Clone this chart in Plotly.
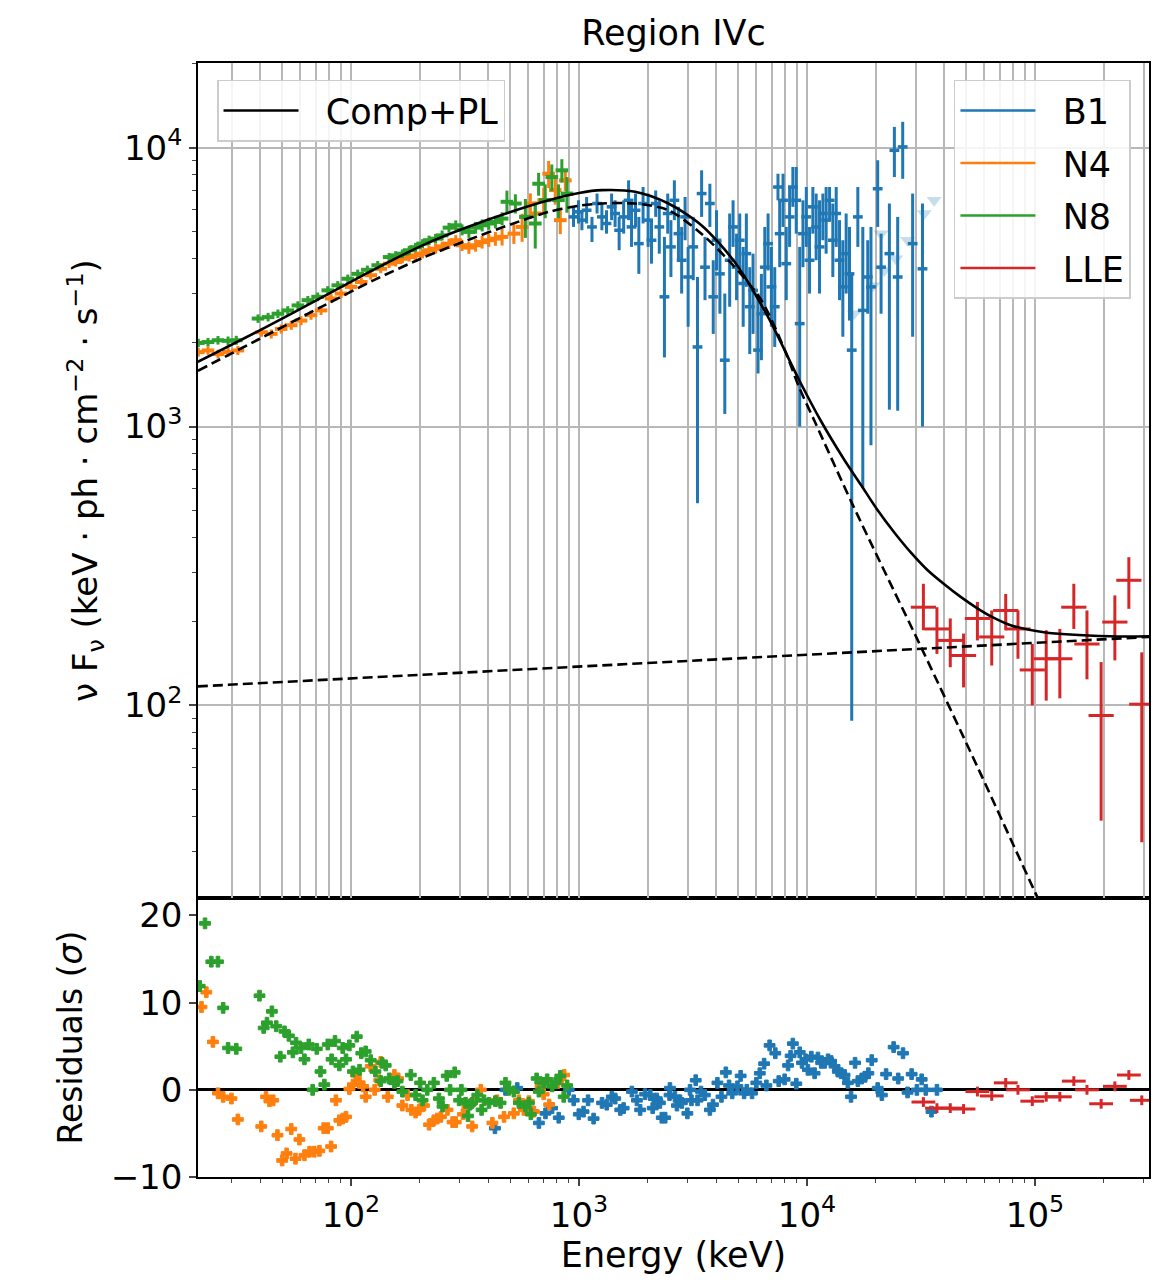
import plotly.graph_objects as go

# ---------------- data ----------------
# Model curves (keV, keV ph cm^-2 s^-1)
model_e = [21.3, 39.8, 75.2, 126, 206, 316, 501, 736, 1000, 1259, 1762, 2466, 3443, 4819,
           6745, 9247, 11510, 14590, 17260, 20420, 24150, 28580, 33730, 40000, 47210, 55850,
           66070, 78160, 109400, 213800, 316200]
model_total = [1706, 2213, 2917, 3656, 4467, 5152, 5888, 6486, 6887, 7047, 6950, 6310, 5272, 3890,
               2472, 1466, 1047, 759, 617, 501, 417, 353, 306, 272, 245, 223, 206, 194, 183, 177, 177]
comp_e = [21.3, 39.8, 75.2, 126, 206, 316, 501, 736, 1000, 1259, 1762, 2466, 3443, 4819,
          6310, 7943, 9247, 10790, 15850, 31620, 56230, 100000, 125900]
comp_f = [1585, 2065, 2704, 3350, 4027, 4624, 5309, 5888, 6194, 6310, 6310, 5970, 4920, 3733,
          2838, 1905, 1380, 1047, 525, 162, 59.6, 21.4, 14.3]
pl_e = [21.3, 316200]
pl_f = [117, 176]

# NaI detector n8 (green)
n8_e = [21.4, 23.6, 26.1, 28.9, 31.4, 39.1, 43.3, 47.8, 52.8, 58.5, 64.7, 71.4, 79.1, 87.5, 96.8,
        107, 118, 131, 147, 157, 168, 180, 192, 206, 220, 235, 251, 269, 288, 307, 329, 352, 376,
        402, 430, 460, 483, 526, 582, 643, 665, 711, 760, 813, 841, 885]
n8_f = [1995, 2010, 2040, 2030, 2040, 2440, 2470, 2540, 2610, 2720, 2840, 2920, 3080, 3210, 3390,
        3530, 3650, 3790, 4055, 4110, 4170, 4290, 4400, 4530, 4660, 4720, 4850, 5170, 5270, 5080,
        4990, 5170, 5270, 5350, 5420, 5570, 6400, 6310, 5650, 5350, 7430, 6490, 7850, 6490, 8300, 6850]
n8_err = [70, 70, 72, 74, 76, 85, 88, 90, 92, 95, 100, 105, 110, 115, 120, 125, 130, 135, 140, 145,
          150, 155, 160, 170, 180, 190, 200, 210, 220, 230, 240, 250, 260, 270, 280, 300, 620, 500,
          900, 1000, 700, 900, 860, 900, 800, 1000]

# NaI detector n4 (orange)
n4_e = [21.4, 23.6, 26.1, 28.9, 31.9, 40.5, 44.7, 49.4, 54.7, 60.4, 66.8, 73.9, 81.8, 90.4, 100,
        111, 122, 135, 147, 157, 168, 180, 192, 206, 220, 235, 251, 269, 288, 307, 329, 352, 376,
        402, 430, 460, 518, 563, 612, 643, 700, 736, 787, 828, 871]
n4_f = [1850, 1875, 1820, 1850, 1875, 2180, 2150, 2240, 2310, 2400, 2510, 2610, 2880, 3000, 3170,
        3300, 3490, 3680, 3840, 3890, 4000, 4055, 4110, 4170, 4290, 4345, 4430, 4530, 4660, 4470,
        4385, 4470, 4590, 4660, 4720, 4790, 4920, 5200, 6310, 5810, 6490, 8070, 7050, 5500, 7640]
n4_err = [65, 66, 66, 68, 70, 80, 80, 84, 86, 90, 94, 98, 105, 110, 115, 120, 125, 130, 135, 140,
          145, 150, 155, 160, 170, 175, 180, 190, 200, 210, 220, 230, 240, 250, 270, 330, 400, 600,
          550, 600, 700, 900, 800, 600, 650]

# BGO detector b1 (blue): centre, upper and lower end of the error bar
b1_e = [946, 995, 1030, 1080, 1140, 1200, 1260, 1320, 1390, 1440, 1500, 1570, 1650, 1700, 1770,
        1830, 1910, 2010, 2080, 2170, 2250, 2370, 2450, 2530, 2620, 2730, 2820, 2920, 3010, 3170,
        3310, 3450, 3570, 3750, 3880, 4010, 4150, 4360, 4580, 4740, 4910, 5070, 5250, 5420, 5610,
        5800, 6100, 6310, 6530, 6750, 6980, 7220, 7460, 7590, 7850, 8110, 8390, 8670, 8970, 9290,
        9600, 9930, 10260, 10610, 10970, 11350, 11740, 12130, 12560, 12980, 13430, 13890, 14360,
        14850, 15360, 15710, 16710, 17570, 18470, 19080, 20420, 21130, 22980, 24170, 24990, 26290,
        29060, 32110]
b1_f = [5650, 5890, 5500, 5970, 5200, 6310, 5650, 5350, 6140, 5810, 5060, 5650, 6480, 5200, 5970,
        4530, 6310, 5500, 4660, 6310, 5200, 2920, 5810, 4410, 6480, 4920, 3950, 5650, 3440, 4410,
        1930, 6850, 3730, 6310, 2920, 4660, 3530, 1730, 3950, 5200, 3730, 4660, 3260, 4170, 2690,
        3080, 1880, 2540, 3730, 4530, 3170, 2690, 7230, 4920, 6480, 3840, 5650, 7230, 6480, 2340,
        4920, 5650, 3950, 6140, 5200, 4410, 5810, 5500, 6480, 4660, 5810, 3950, 3170, 4170, 3530,
        1880, 5650, 2610, 3440, 3170, 7130, 3730, 4170, 9790, 3440, 10070, 4530, 3680]
b1_hi = [6140, 6480, 5970, 6660, 5650, 6850, 6310, 5970, 6850, 6480, 5650, 6480, 7640, 6310, 6850,
         5650, 7230, 6850, 5500, 7030, 6480, 4790, 6850, 5500, 7640, 6140, 5200, 6660, 4410, 5650,
         3440, 8300, 4790, 7430, 3950, 5970, 4660, 3000, 5810, 6480, 4920, 5810, 4410, 5810, 3730,
         4170, 3000, 3530, 5200, 5810, 4410, 3730, 8070, 6480, 8070, 5200, 7230, 8530, 8530, 4410,
         6480, 7230, 5200, 7230, 6850, 6480, 6850, 7230, 7230, 6310, 7230, 5500, 4660, 5810, 5200,
         3530, 7230, 5200, 4660, 5200, 9020, 4920, 6310, 11880, 5650, 12390, 6850, 6310]
b1_lo = [5200, 5350, 5060, 5350, 4590, 5810, 5060, 4920, 5500, 5200, 4290, 4920, 5500, 4410, 5200,
         3530, 5350, 4410, 3840, 5650, 4170, 1770, 4920, 3440, 5500, 3950, 3000, 4660, 2280, 3350,
         531, 5650, 2840, 5200, 2150, 3630, 2540, 1110, 2690, 4410, 2840, 3730, 2280, 3170, 1820,
         2150, 1550, 1730, 2690, 3630, 2280, 1930, 6480, 3730, 5200, 2840, 4410, 6140, 4920, 1000,
         3730, 4410, 3000, 4920, 3950, 3000, 4660, 4170, 5500, 3440, 4410, 2840, 2100, 3000, 2400,
         88, 4410, 605, 2540, 857, 5200, 2540, 1150, 7850, 1140, 7740, 2100, 1000]
# faded b1 points (upper limits)
b1_ul_e = [16100, 19500, 21130, 21800, 24500, 27600, 32700, 36100]
b1_ul_f = [2540, 3200, 4920, 3630, 4000, 4660, 5810, 6480]

# LAT Low Energy events (red)
lle_e = [32400, 37150, 42500, 48600, 55900, 64600, 74400, 84200, 97300, 112000, 128500, 148000,
         169000, 195000, 224000, 258000, 294000]
lle_f = [225, 188, 171, 151, 205, 176, 219, 188, 134, 147, 147, 225, 166, 92, 199, 281, 101]
lle_hi = [273, 225, 205, 181, 235, 219, 251, 219, 166, 186, 188, 273, 219, 143, 248, 340, 155]
lle_lo = [186, 153, 137, 116, 171, 139, 186, 147, 100, 104, 106, 188, 124, 38.6, 145, 222, 32.3]

# Residuals (sigma)
n8_res_e = [22.9, 24.4, 26.1, 21.7, 27.5, 28.9, 31.4, 39.7, 41.4, 42.8, 45.0, 47.0, 49.0, 51.1,
            53.4, 55.6, 57.4, 60.4, 62.5, 65.3, 67.9, 70.8, 73.5, 76.4, 79.1, 85.1, 82.2, 88.9, 92.0,
            98.4, 95.1, 102, 106, 109, 111, 116, 122, 128, 135, 137, 142, 147, 155, 160, 168, 183,
            192, 201, 206, 216, 231, 243, 252, 263, 272, 285, 298, 305, 318, 326, 333, 340, 358,
            374, 383, 403, 430, 453, 476, 492, 518, 545, 582, 603, 615, 652, 667, 700, 725, 763,
            789, 828, 857, 887]
n8_res = [19.1, 14.7, 14.7, 11.9, 9.4, 4.8, 4.7, 10.8, 7.1, 7.7, 9.0, 7.3, 3.8, 6.7, 6.2, 4.3, 5.4,
          4.8, 3.5, 5.2, 0.0, 4.7, 2.1, 0.6, 5.2, 5.6, 3.5, 2.8, 4.8, 5.1, 3.5, 2.1, 6.1, 2.3, 4.2,
          4.4, 3.4, 2.1, 1.0, 3.1, 2.8, 1.3, 0.8, 1.0, -0.2, 1.7, -0.6, 0.8, -1.2, 0.0, 0.8, -1.0,
          -1.9, 1.6, 0.0, 2.0, -1.2, 0.0, -1.5, -3.0, -1.7, -1.5, -0.6, -2.3, -1.2, -1.5, -1.3, -1.5,
          0.8, 0.0, -0.2, -1.5, -1.9, -1.5, -2.8, 1.3, -0.2, 0.8, 1.2, 0.4, 0.8, 1.6, -0.8, 0.5]
n4_res_e = [22.1, 23.2, 24.8, 26.1, 27.5, 29.9, 31.9, 40.4, 42.4, 43.9, 45.6, 47.6, 49.9, 52.2,
            54.7, 57.1, 59.4, 62.5, 65.8, 69.0, 72.7, 75.9, 79.1, 81.8, 85.9, 88.9, 92.0, 95.1, 98.4,
            102, 105, 109, 113, 116, 122, 127, 133, 135, 145, 155, 161, 168, 177, 184, 192, 199,
            209, 220, 231, 239, 248, 265, 279, 288, 310, 324, 340, 348, 371, 417, 437, 469, 518,
            545, 573, 603, 634, 678, 700, 740, 809, 861]
n4_res = [9.5, 11.2, 5.5, -0.4, -0.8, -1.0, -3.4, -4.2, -0.8, -1.3, -1.2, -5.2, -8.1, -7.3, -4.5,
          -7.9, -5.7, -7.5, -7.1, -7.1, -7.0, -4.4, -4.4, -6.5, -1.2, -3.5, -3.3, -3.1, 0.1, 0.6,
          1.7, 0.8, 0.4, -0.8, 2.7, 0.0, 1.1, 3.2, -0.8, 1.7, 1.3, -1.8, -0.6, -2.3, -2.6, -2.3,
          -1.8, -4.0, -3.5, -3.3, -3.1, -2.3, -3.7, -3.7, -2.8, -1.9, -4.2, -1.2, 0.0, -3.8, -1.2,
          -3.1, -2.7, -1.2, -2.3, -1.3, -2.5, 0.4, -0.5, -1.7, 0.8, 1.7]
b1_res_e = [428, 476, 536, 624, 667, 713, 762, 815, 902, 948, 998, 1047, 1096, 1159, 1262, 1324,
            1393, 1442, 1517, 1570, 1706, 1795, 1854, 1950, 2054, 2105, 2193, 2208, 2264, 2307,
            2388, 2495, 2506, 2636, 2689, 2773, 2826, 2988, 3069, 3113, 3251, 3311, 3428, 3565,
            3750, 3870, 4046, 4216, 4406, 4552, 4699, 4954, 5117, 5298, 5445, 5741, 5995, 6209,
            6486, 6637, 6855, 7261, 7516, 7980, 8260, 8475, 8670, 8977, 9290, 9506, 9863, 10090,
            10450, 10800, 11170, 11540, 11950, 12370, 12760, 13210, 13650, 14130, 14620, 15110,
            15600, 16250, 16710, 17380, 17990, 18590, 19230, 20420, 21300, 22230, 23990, 25120,
            26370, 27610, 28770, 30340, 31840, 33190, 35150, 37150]
b1_res = [-4.4, 0.0, 0.2, -2.5, -3.8, -2.7, -2.1, -3.2, 0.0, -1.2, -2.8, -2.5, -1.2, -3.3, -1.5,
          -1.7, -0.8, -1.0, -2.3, -2.1, -0.2, -1.2, -2.3, -0.5, -0.6, -2.1, -1.0, -1.3, -1.5, -3.2,
          -3.2, -0.6, 0.2, -0.8, -1.8, -1.2, -1.5, -2.7, 0.0, -1.2, 1.1, -1.2, -0.2, -0.6, -2.3,
          -1.7, 0.8, -0.8, 2.0, 0.5, -0.4, 0.4, 1.6, -0.4, 0.0, -0.4, 0.8, 1.9, 3.0, 0.5, 5.1, 4.2,
          1.0, 1.2, 2.8, 3.9, 5.3, 0.7, 4.3, 3.1, 3.5, 2.3, 3.8, 1.9, 3.7, 3.1, 3.1, 3.5, 3.3, 2.7,
          2.1, 1.9, 1.7, 0.8, -0.8, 3.1, 1.0, 1.3, 1.5, 1.9, 3.4, 0.2, -0.6, 1.8, 4.9, 1.3, 4.2,
          -0.3, 1.8, 0.0, 1.2, 0.0, -2.5, 0.0]
lle_res = [-1.4, -2.1, -2.1, -2.2, -0.2, -0.7, 0.8, 0.0, -1.3, -0.8, -0.8, 1.0, 0.0, -1.6, 0.4, 1.7, -1.2]

# tick labels
x_tickvals = [100, 1000, 10000, 100000]
x_ticktext = ["10<sup>2</sup>", "10<sup>3</sup>", "10<sup>4</sup>", "10<sup>5</sup>"]
y_tickvals = [100, 1000, 10000]
y_ticktext = ["10<sup>2</sup>", "10<sup>3</sup>", "10<sup>4</sup>"]
res_tickvals = [-10, 0, 10, 20]

# ---------------- styling ----------------
C_B1, C_N4, C_N8, C_LLE = "#1f77b4", "#ff7f0e", "#2ca02c", "#d62728"
FONT = "DejaVu Sans"
GRID = "#b8b8b8"
NB = "\u00a0\u00a0"
minor_vals = [m * 10 ** k for k in range(1, 6) for m in range(2, 10)]

fig = go.Figure()


def errs(f, hi, lo):
    return [h - v for v, h in zip(f, hi)], [v - l for v, l in zip(f, lo)]


# ---- top panel (x2, y2) ----
fig.add_trace(go.Scatter(x=b1_ul_e, y=b1_ul_f, mode="markers", xaxis="x2", yaxis="y2",
                         marker=dict(symbol="triangle-down", size=13, color=C_B1, opacity=0.25),
                         showlegend=False, hoverinfo="skip"))
up, dn = errs(b1_f, b1_hi, b1_lo)
fig.add_trace(go.Scatter(x=b1_e, y=b1_f, mode="markers", xaxis="x2", yaxis="y2",
                         marker=dict(symbol="line-ew", size=7, line=dict(color=C_B1, width=3.5)),
                         error_y=dict(type="data", array=up, arrayminus=dn, color=C_B1,
                                      thickness=3, width=0),
                         showlegend=False))
fig.add_trace(go.Scatter(x=n4_e, y=n4_f, mode="markers", xaxis="x2", yaxis="y2",
                         marker=dict(symbol="line-ew", size=9, line=dict(color=C_N4, width=4)),
                         error_y=dict(type="data", array=n4_err, color=C_N4, thickness=3, width=0),
                         showlegend=False))
fig.add_trace(go.Scatter(x=n8_e, y=n8_f, mode="markers", xaxis="x2", yaxis="y2",
                         marker=dict(symbol="line-ew", size=9, line=dict(color=C_N8, width=4)),
                         error_y=dict(type="data", array=n8_err, color=C_N8, thickness=3, width=0),
                         showlegend=False))
up, dn = errs(lle_f, lle_hi, lle_lo)
fig.add_trace(go.Scatter(x=lle_e, y=lle_f, mode="markers", xaxis="x2", yaxis="y2",
                         marker=dict(symbol="line-ew", size=18, line=dict(color=C_LLE, width=3)),
                         error_y=dict(type="data", array=up, arrayminus=dn, color=C_LLE,
                                      thickness=3, width=0),
                         showlegend=False))
fig.add_trace(go.Scatter(x=pl_e, y=pl_f, mode="lines", xaxis="x2", yaxis="y2",
                         line=dict(color="black", width=2.6, dash="10px,5px"), showlegend=False))
fig.add_trace(go.Scatter(x=comp_e, y=comp_f, mode="lines", xaxis="x2", yaxis="y2",
                         line=dict(color="black", width=2.6, dash="10px,5px", shape="spline",
                                   smoothing=0.8), showlegend=False))
fig.add_trace(go.Scatter(x=model_e, y=model_total, mode="lines", xaxis="x2", yaxis="y2",
                         name=NB + "Comp+PL", legend="legend",
                         line=dict(color="black", width=2.6, shape="spline", smoothing=0.8)))

# legend entries for the instruments
for nm, col in [("B1", C_B1), ("N4", C_N4), ("N8", C_N8), ("LLE", C_LLE)]:
    fig.add_trace(go.Scatter(x=[None], y=[None], mode="lines", xaxis="x2", yaxis="y2",
                             name=NB + nm, legend="legend2", legendgroup=nm,
                             line=dict(color=col, width=2.6)))

# ---- residual panel (x, y) ----
res_marker = dict(symbol="cross", size=9)
fig.add_trace(go.Scatter(x=b1_res_e, y=b1_res, mode="markers",
                         marker=dict(**res_marker, color=C_B1, line=dict(color=C_B1, width=1)),
                         showlegend=False))
fig.add_trace(go.Scatter(x=n4_res_e, y=n4_res, mode="markers",
                         marker=dict(**res_marker, color=C_N4, line=dict(color=C_N4, width=1)),
                         showlegend=False))
fig.add_trace(go.Scatter(x=n8_res_e, y=n8_res, mode="markers",
                         marker=dict(**res_marker, color=C_N8, line=dict(color=C_N8, width=1)),
                         showlegend=False))
fig.add_trace(go.Scatter(x=lle_e, y=lle_res, mode="markers",
                         marker=dict(symbol="line-ew", size=17, line=dict(color=C_LLE, width=3)),
                         showlegend=False))
fig.add_trace(go.Scatter(x=lle_e, y=lle_res, mode="markers",
                         marker=dict(symbol="line-ns", size=7, line=dict(color=C_LLE, width=3)),
                         showlegend=False))

axis_common = dict(showline=True, linecolor="black", linewidth=1.6, mirror=True,
                   tickfont=dict(family=FONT, size=34, color="black"))

fig.update_layout(
    width=1153, height=1283,
    margin=dict(l=198, r=2, t=63, b=106),
    paper_bgcolor="white", plot_bgcolor="white",
    font=dict(family=FONT, size=34, color="black"),
    title=dict(text="Region IVc", x=0.5, xref="paper", y=1 - 33 / 1283, yref="container",
               xanchor="center", yanchor="middle", font=dict(family=FONT, size=35)),
    xaxis=dict(type="log", range=[1.329, 5.5], domain=[0, 1], anchor="y",
               tickvals=x_tickvals, ticktext=x_ticktext,
               ticks="outside", ticklen=7, tickwidth=1.5,
               showgrid=False, zeroline=False,
               minor=dict(tickvals=minor_vals, ticks="outside", ticklen=4, tickwidth=1.2,
                          showgrid=False),
               title=dict(text="Energy (keV)", font=dict(family=FONT, size=35), standoff=4),
               **axis_common),
    yaxis=dict(domain=[0, 0.2504], range=[-10, 22], anchor="x", tickvals=res_tickvals,
               ticks="outside", ticklen=7, tickwidth=1.5, showgrid=False,
               zeroline=True, zerolinecolor="black", zerolinewidth=2.6,
               title=dict(text="Residuals (<i>σ</i>)", font=dict(family=FONT, size=33),
                          standoff=18),
               **axis_common),
    xaxis2=dict(type="log", range=[1.329, 5.5], domain=[0, 1], anchor="y2", matches="x",
                tickvals=x_tickvals, showticklabels=False, ticks="", showgrid=True,
                gridcolor=GRID, gridwidth=1.5, zeroline=False,
                minor=dict(tickvals=minor_vals, showgrid=True, gridcolor=GRID, gridwidth=1.5,
                           ticks=""),
                **axis_common),
    yaxis2=dict(type="log", range=[1.309, 4.304], domain=[0.2504, 1], anchor="x2",
                tickvals=y_tickvals, ticktext=y_ticktext,
                ticks="outside", ticklen=7, tickwidth=1.5,
                showgrid=True, gridcolor=GRID, gridwidth=1.5, zeroline=False,
                minor=dict(tickvals=minor_vals, ticks="outside", ticklen=4, tickwidth=1.2,
                           showgrid=False),
                title=dict(text="ν F<sub>ν</sub> (keV · ph · cm<sup>−2</sup> · s<sup>−1</sup>)",
                           font=dict(family=FONT, size=34), standoff=16),
                **axis_common),
    legend=dict(x=0.02, y=0.985, xref="paper", yref="paper", xanchor="left", yanchor="top",
                bgcolor="rgba(255,255,255,0.85)", bordercolor="#cccccc", borderwidth=1.5,
                font=dict(family=FONT, size=35), itemwidth=75),
    legend2=dict(x=0.981, y=0.985, xref="paper", yref="paper", xanchor="right", yanchor="top",
                 bgcolor="rgba(255,255,255,0.85)", bordercolor="#cccccc", borderwidth=1.5,
                 font=dict(family=FONT, size=35), itemwidth=75, tracegroupgap=4),
)

fig.write_html("out.html")
